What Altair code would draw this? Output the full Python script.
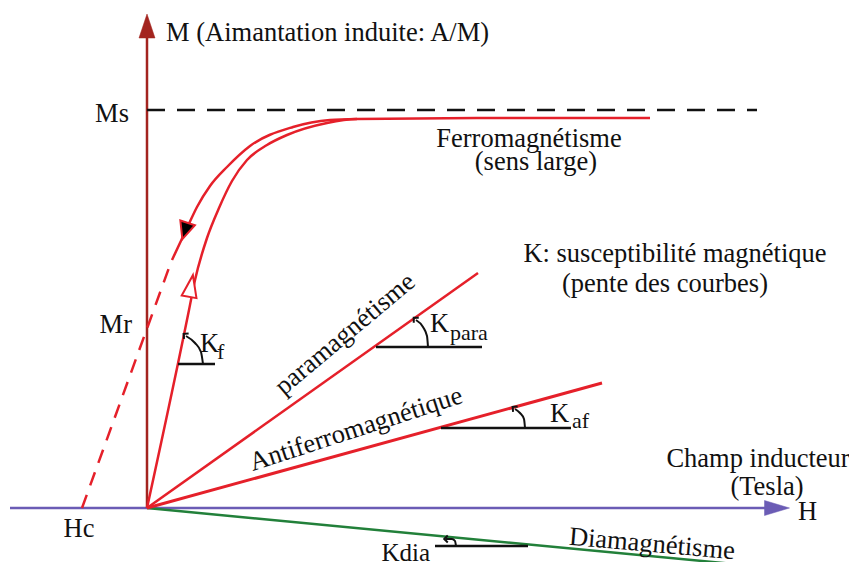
import altair as alt
import pandas as pd

FONT = "Liberation Serif"
RED = "#E5202A"
AXIS_RED = "#A3241F"
AXIS_BLUE = "#6B5CB5"
GREEN = "#22803A"
BLACK = "#111111"

# schematic frame (H: field, M: magnetisation), origin at the axes crossing
H_DOMAIN = [-139, 702]
M_DOMAIN = [-54, 500]

# axes
M_AXIS_H = [0, 0]
M_AXIS_M = [0, 482]
M_ARROW = (0, 482)
H_AXIS_H = [-137, 631]
H_AXIS_M = [0, 0]
H_ARROW = (630, 0)
MS_LEVEL_H = [0, 610]
MS_LEVEL_M = [398, 398]

# ferromagnetism (hysteresis)
FERRO_UP_H = [0, 42, 48, 60, 72, 85, 100, 120, 140, 180, 210, 350, 503]
FERRO_UP_M = [0, 198, 228, 270, 300, 327, 348, 363, 373, 385, 389, 390, 390]
FERRO_DOWN_H = [25, 40, 50, 63, 80, 103, 146, 183, 210]
FERRO_DOWN_M = [248, 280, 301, 322, 341, 362, 381, 388, 389]
HC_DASH_H = [-65, 23]
HC_DASH_M = [0, 243]
UP_ARROW = (44, 222)
DOWN_ARROW = (38, 277)

# other behaviours (straight lines from origin)
PARA_H = [0, 331]
PARA_M = [0, 235]
AF_H = [0, 455]
AF_M = [0, 125]
DIA_H = [0, 660]
DIA_M = [0, -63]

# slope markers: horizontal references
KF_REF_H, KF_REF_M = [31, 68], [144, 144]
KPARA_REF_H, KPARA_REF_M = [229, 335], [161, 161]
KAF_REF_H, KAF_REF_M = [294, 424], [80, 80]
KDIA_REF_H, KDIA_REF_M = [288, 381], [-38, -38]

# slope markers: small angle arcs
KF_ARC_H, KF_ARC_M = [39, 48, 54, 56], [172, 165, 156, 144]
KPARA_ARC_H, KPARA_ARC_M = [269, 276, 280, 281], [188, 181, 172, 161]
KAF_ARC_H, KAF_ARC_M = [368, 373, 377, 378], [99, 95, 89, 80]
KDIA_ARC_H, KDIA_ARC_M = [299, 305, 308, 309], [-31, -31, -33, -38]
ARC_TIPS_H = [38, 268, 367, 299]
ARC_TIPS_M = [173, 189, 100, -31]
ARC_TIPS_ANGLE = [40, 45, 40, 0]

# labels
LABELS = [
    # text, H, M, align, baseline, angle, size
    ("M (Aimantation induite: A/M)", 19, 467, "left", "alphabetic", 0, 26.5),
    ("Ms", -18, 386, "right", "alphabetic", 0, 26.5),
    ("Mr", -15, 175, "right", "alphabetic", 0, 26.5),
    ("Hc", -68, -29, "center", "alphabetic", 0, 26.5),
    ("Ferromagnétisme", 382, 361, "center", "alphabetic", 0, 26.5),
    ("(sens large)", 389, 338, "center", "alphabetic", 0, 26.5),
    ("K: susceptibilité magnétique", 528, 246, "center", "alphabetic", 0, 26.5),
    ("(pente des courbes)", 518, 216, "center", "alphabetic", 0, 26.5),
    ("Champ inducteur", 611, 41, "center", "alphabetic", 0, 26.5),
    ("(Tesla)", 620, 13, "center", "alphabetic", 0, 26.5),
    ("H", 651, -12, "left", "alphabetic", 0, 26.5),
    ("Kdia", 283, -53, "right", "alphabetic", 0, 25),
    ("K", 53, 156, "left", "alphabetic", 0, 26.5),
    ("f", 70, 149, "left", "alphabetic", 0, 22),
    ("K", 283, 176, "left", "alphabetic", 0, 26.5),
    ("para", 303, 168, "left", "alphabetic", 0, 22),
    ("K", 403, 86, "left", "alphabetic", 0, 26.5),
    ("af", 425, 80, "left", "alphabetic", 0, 22),
    ("paramagnétisme", 198, 174, "center", "middle", 320, 26.5),
    ("Antiferromagnétique", 209, 79, "center", "middle", 342, 26.5),
    ("Diamagnétisme", 505, -36, "center", "middle", 5, 26.5),
]

X = alt.X("H:Q", scale=alt.Scale(domain=H_DOMAIN, nice=False, zero=False), axis=None)
Y = alt.Y("M:Q", scale=alt.Scale(domain=M_DOMAIN, nice=False, zero=False), axis=None)


def line_layer(h, m, color, width, dash=None, interp="linear"):
    df = pd.DataFrame({"H": h, "M": m})
    kw = dict(color=color, strokeWidth=width, interpolate=interp, clip=True, strokeCap="butt")
    if dash:
        kw["strokeDash"] = dash
    return alt.Chart(df).mark_line(**kw).encode(x=X, y=Y)


def point_layer(h, m, shape, size, angle=0, fill=None, stroke=None, sw=1.0, filled=True):
    df = pd.DataFrame({"H": h, "M": m})
    kw = dict(shape=shape, size=size, angle=angle, filled=filled, opacity=1, strokeWidth=sw)
    if fill:
        kw["fill"] = fill
    if stroke:
        kw["stroke"] = stroke
    return alt.Chart(df).mark_point(**kw).encode(x=X, y=Y)


layers = []
# axes
layers.append(line_layer(H_AXIS_H, H_AXIS_M, AXIS_BLUE, 2.5))
layers.append(point_layer([H_ARROW[0]], [H_ARROW[1]], "M1,0L-1,0.6L-1,-0.6Z", 625,
                          fill=AXIS_BLUE, stroke=AXIS_BLUE, sw=0.5))
layers.append(line_layer(M_AXIS_H, M_AXIS_M, AXIS_RED, 2.5))
layers.append(point_layer([M_ARROW[0]], [M_ARROW[1]], "M0,-1L0.667,1L-0.667,1Z", 576,
                          fill=AXIS_RED, stroke=AXIS_RED, sw=0.5))
layers.append(line_layer(MS_LEVEL_H, MS_LEVEL_M, BLACK, 2.5, dash=[18, 12]))

# behaviours
layers.append(line_layer(DIA_H, DIA_M, GREEN, 2.5))
layers.append(line_layer(AF_H, AF_M, RED, 3))
layers.append(line_layer(PARA_H, PARA_M, RED, 2.5))
layers.append(line_layer(FERRO_UP_H, FERRO_UP_M, RED, 2.5, interp="monotone"))
layers.append(line_layer(FERRO_DOWN_H, FERRO_DOWN_M, RED, 2.5, interp="monotone"))
layers.append(line_layer(HC_DASH_H, HC_DASH_M, RED, 2.5, dash=[14, 10]))
layers.append(point_layer([UP_ARROW[0]], [UP_ARROW[1]], "M0,-1L0.68,1L-0.68,1Z", 484,
                          angle=10, fill="white", stroke=RED, sw=2))
layers.append(point_layer([DOWN_ARROW[0]], [DOWN_ARROW[1]], "M0,1L0.9,-1L-0.9,-1Z", 289,
                          angle=18, fill="black", stroke=RED, sw=2))

# slope markers
for rh, rm in [(KF_REF_H, KF_REF_M), (KPARA_REF_H, KPARA_REF_M),
               (KAF_REF_H, KAF_REF_M), (KDIA_REF_H, KDIA_REF_M)]:
    layers.append(line_layer(rh, rm, BLACK, 2.5))
for ah, am in [(KF_ARC_H, KF_ARC_M), (KPARA_ARC_H, KPARA_ARC_M),
               (KAF_ARC_H, KAF_ARC_M), (KDIA_ARC_H, KDIA_ARC_M)]:
    layers.append(line_layer(ah, am, BLACK, 2, interp="monotone"))
for th, tm, ta in zip(ARC_TIPS_H, ARC_TIPS_M, ARC_TIPS_ANGLE):
    layers.append(point_layer([th], [tm], "M0.5,-1L-0.5,0L0.5,1", 50, angle=ta,
                              stroke=BLACK, sw=2, filled=False))

# labels
lab = pd.DataFrame(LABELS, columns=["text", "H", "M", "align", "baseline", "angle", "size"])
for (al, bl, ang, sz), g in lab.groupby(["align", "baseline", "angle", "size"]):
    layers.append(
        alt.Chart(g[["text", "H", "M"]]).mark_text(
            font=FONT, fontSize=float(sz), align=al, baseline=bl, angle=int(ang), color=BLACK
        ).encode(x=X, y=Y, text="text:N")
    )

chart = alt.layer(*layers).properties(
    width=841, height=554, padding=0, autosize="none", background="white"
).configure_view(stroke=None)

chart.save("out.html", embed_options={"renderer": "svg", "actions": False})
